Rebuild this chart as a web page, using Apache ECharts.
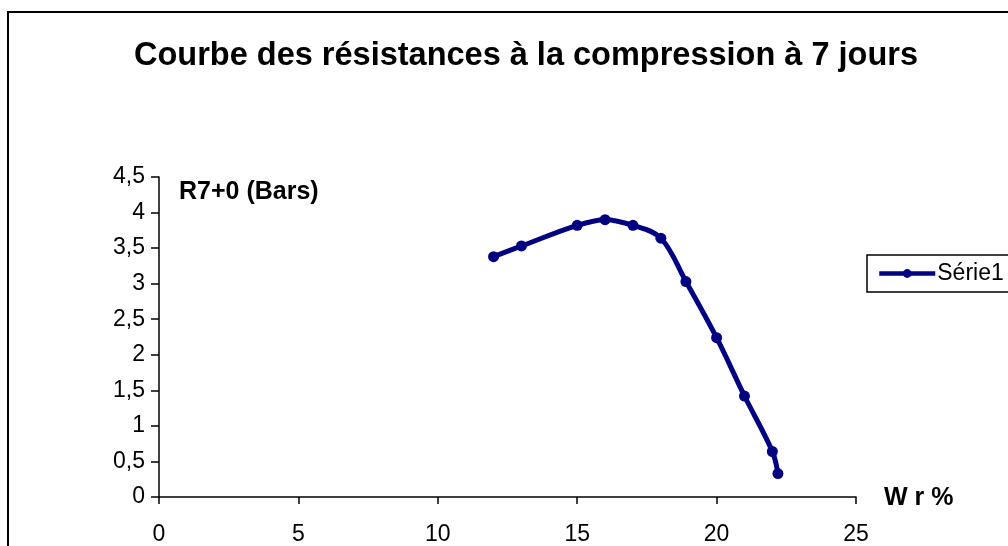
<!DOCTYPE html>
<html>
<head>
<meta charset="utf-8">
<script src="https://cdn.jsdelivr.net/npm/echarts@6/dist/echarts.min.js"></script>
<style>
  html, body { margin: 0; padding: 0; background: #fff; }
  #main { width: 1008px; height: 546px; }
</style>
</head>
<body>
<div id="main"></div>
<script>
const wr = [12, 13, 15, 16, 17, 18, 18.9, 20, 21, 22, 22.2];
const r7 = [3.38, 3.53, 3.82, 3.9, 3.82, 3.64, 3.03, 2.24, 1.42, 0.64, 0.33];
const seriesName = 'Série1';

const chartDom = document.getElementById('main');
const myChart = echarts.init(chartDom);
const font = "'Liberation Sans', Arial, sans-serif";
const comma = v => String(v).replace('.', ',');

const option = {
  backgroundColor: '#fff',
  animation: false,
  textStyle: { fontFamily: font },
  title: {
    text: 'Courbe des résistances à la compression à 7 jours',
    left: 521,
    top: 35,
    textAlign: 'center',
    textStyle: { fontFamily: font, fontSize: 32.5, fontWeight: 'bold', color: '#000' }
  },
  grid: { left: 159, right: 152, top: 177, bottom: 49, containLabel: false },
  legend: {
    left: 867,
    top: 255,
    orient: 'vertical',
    padding: [7, 40, 7, 10],
    borderColor: '#000',
    borderWidth: 1.5,
    itemWidth: 56,
    itemHeight: 11,
    itemGap: 0,
    textStyle: { fontFamily: font, fontSize: 23, color: '#000', padding: [0, 0, 0, -3] },
    data: [{ name: seriesName, lineStyle: { width: 4.5, color: '#000080' } }]
  },
  xAxis: {
    type: 'value',
    min: 0,
    max: 25,
    interval: 5,
    splitLine: { show: false },
    axisLine: { onZero: false, lineStyle: { color: '#000', width: 1.5 } },
    axisTick: { show: true, length: 7, lineStyle: { color: '#000', width: 1.5 } },
    axisLabel: { fontFamily: font, fontSize: 23, color: '#000', margin: 26 }
  },
  yAxis: {
    type: 'value',
    min: 0,
    max: 4.5,
    interval: 0.5,
    splitLine: { show: false },
    axisLine: { show: true, lineStyle: { color: '#000', width: 1.5 } },
    axisTick: { show: true, length: 8, lineStyle: { color: '#000', width: 1.5 } },
    axisLabel: { fontFamily: font, fontSize: 23, color: '#000', margin: 14, formatter: comma }
  },
  graphic: [
    {
      type: 'rect',
      shape: { x: 8, y: 12, width: 1020, height: 560 },
      style: { fill: 'none', stroke: '#000', lineWidth: 2 },
      silent: true
    },
    {
      type: 'text',
      x: 179, y: 192,
      style: { text: 'R7+0 (Bars)', font: 'bold 25px ' + font, fill: '#000', textVerticalAlign: 'middle' }
    },
    {
      type: 'text',
      x: 884, y: 498,
      style: { text: 'W r %', font: 'bold 25px ' + font, fill: '#000', textVerticalAlign: 'middle' }
    }
  ],
  series: [{
    name: seriesName,
    type: 'line',
    data: wr.map((x, i) => [x, r7[i]]),
    smooth: 0.35,
    symbol: 'circle',
    symbolSize: 11,
    lineStyle: { width: 5, color: '#000080' },
    itemStyle: { color: '#000080' }
  }]
};

myChart.setOption(option);
</script>
</body>
</html>
